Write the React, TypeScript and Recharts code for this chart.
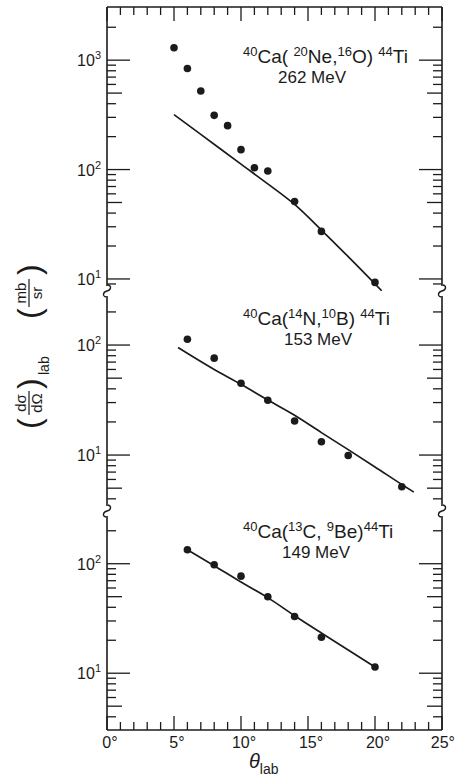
import React from 'react';
import { ComposedChart, Line, Scatter, XAxis, YAxis } from 'recharts';

// angles in degrees, cross sections in mb/sr
const thetaTicks = [0, 1, 2, 3, 4, 5, 6, 7, 8, 9, 10, 11, 12, 13, 14, 15, 16, 17, 18, 19, 20, 21, 22, 23, 24, 25];

// 40Ca(20Ne,16O)44Ti 262 MeV
const neTheta = [5, 6, 7, 8, 9, 10, 11, 12, 14, 16, 20];
const neSigma = [1300, 840, 522, 313, 252, 152, 104, 97, 51, 27.2, 9.3];
const neCurveTheta = [5, 7, 10, 12, 14, 16, 18, 20.5];
const neCurveSigma = [318, 210, 112, 74, 48, 28, 16, 7.8];

// 40Ca(14N,10B)44Ti 153 MeV
const nTheta = [6, 8, 10, 12, 14, 16, 18, 22];
const nSigma = [113, 76, 45, 31.5, 20.4, 13.2, 9.9, 5.15];
const nCurveTheta = [5.3, 8, 10, 12, 14, 16, 18, 20, 22, 22.9];
const nCurveSigma = [95, 60, 44, 31.6, 23, 16, 11.2, 7.8, 5.4, 4.6];

// 40Ca(13C,9Be)44Ti 149 MeV
const cTheta = [6, 8, 10, 12, 14, 16, 20];
const cSigma = [134, 98, 77, 50, 33, 21.3, 11.4];
const cCurveTheta = [6, 8, 10, 12, 14, 16, 18, 20];
const cCurveSigma = [134, 96, 68, 49, 33.5, 23.3, 16.3, 11.4];

const ticksTop = [9, 10, 20, 30, 40, 50, 60, 70, 80, 90, 100, 200, 300, 400, 500, 600, 700, 800, 900, 1000, 2000];
const ticksLower = [4, 5, 6, 7, 8, 9, 10, 20, 30, 40, 50, 60, 70, 80, 90, 100, 200];

const INK = '#1b1b1b';
const FONT = '"Liberation Sans", Arial, sans-serif';
const W = 456;
const H = 778;
const LEFT = 107;
const RIGHT = 442;
const TOP = 7;
const BOTTOM = 730;
const BREAK1 = 291;
const BREAK2 = 511;

const zip = (xs: number[], ys: number[]) => xs.map((x, i) => ({ x, y: ys[i] }));

const Dot = (props: any) => <circle cx={props.cx} cy={props.cy} r={3.8} fill={INK} />;

const makeYTick = (side: 'l' | 'r') => (props: any) => {
  const { x, y, payload } = props;
  const v = payload.value;
  const e = Math.floor(Math.log10(v) + 1e-9);
  const mant = Math.round(v / Math.pow(10, e));
  const len = mant === 1 ? 23 : mant === 5 ? 15 : 9;
  const dir = side === 'l' ? 1 : -1;
  return (
    <g>
      <line x1={x} x2={x + dir * len} y1={y} y2={y} stroke={INK} strokeWidth={1.3} />
      {side === 'l' && mant === 1 && (
        <text x={x - 6} y={y + 6} textAnchor="end" fontSize={16} fill={INK} fontFamily={FONT}>
          10<tspan dy={-7} fontSize={11}>{e}</tspan>
        </text>
      )}
    </g>
  );
};

const makeXTick = (side: 't' | 'b') => (props: any) => {
  const { x, y, payload } = props;
  const v = payload.value;
  const major = v % 5 === 0;
  const len = major ? 14 : 8;
  const dir = side === 'b' ? -1 : 1;
  const last = v === 25;
  return (
    <g>
      <line x1={x} x2={x} y1={y} y2={y + dir * len} stroke={INK} strokeWidth={1.3} />
      {side === 'b' && major && (
        <text
          x={last ? W - 1 : x + 3}
          y={y + 18}
          textAnchor={last ? 'end' : 'middle'}
          fontSize={16}
          fill={INK}
          fontFamily={FONT}
        >
          {v}°
        </text>
      )}
    </g>
  );
};

interface PanelProps {
  top: number;
  bottom: number;
  domain: [number, number];
  ticks: number[];
  pts: { x: number; y: number }[];
  curve: { x: number; y: number }[];
  xSide: 't' | 'b' | 'none';
}

// axes need a non-zero size to be drawn, so each takes 1px of margin
const Panel: React.FC<PanelProps> = ({ top, bottom, domain, ticks, pts, curve, xSide }) => (
  <div style={{ position: 'absolute', left: 0, top: 0 }}>
    <ComposedChart
      width={W}
      height={H}
      margin={{
        top: xSide === 't' ? top - 1 : top,
        bottom: xSide === 'b' ? H - bottom - 1 : H - bottom,
        left: LEFT - 1,
        right: W - RIGHT - 1,
      }}
    >
      <XAxis
        dataKey="x"
        type="number"
        domain={[0, 25]}
        ticks={thetaTicks}
        interval={0}
        orientation={xSide === 't' ? 'top' : 'bottom'}
        hide={xSide === 'none'}
        height={1}
        tickSize={0}
        tickMargin={0}
        tick={makeXTick(xSide === 't' ? 't' : 'b')}
        axisLine={{ stroke: INK, strokeWidth: 1.6 }}
        allowDataOverflow
      />
      <YAxis
        yAxisId="l"
        dataKey="y"
        scale="log"
        type="number"
        domain={domain}
        ticks={ticks}
        interval={0}
        width={1}
        tickSize={0}
        tickMargin={0}
        tick={makeYTick('l')}
        axisLine={{ stroke: INK, strokeWidth: 1.6 }}
        allowDataOverflow
      />
      <YAxis
        yAxisId="r"
        orientation="right"
        scale="log"
        type="number"
        domain={domain}
        ticks={ticks}
        interval={0}
        width={1}
        tickSize={0}
        tickMargin={0}
        tick={makeYTick('r')}
        axisLine={{ stroke: INK, strokeWidth: 1.6 }}
        allowDataOverflow
      />
      <Line
        yAxisId="l"
        data={curve}
        dataKey="y"
        type="monotone"
        stroke={INK}
        strokeWidth={1.7}
        dot={false}
        isAnimationActive={false}
      />
      <Scatter yAxisId="l" data={pts} dataKey="y" shape={Dot} isAnimationActive={false} />
    </ComposedChart>
  </div>
);

const BreakMark: React.FC<{ x: number; y: number }> = ({ x, y }) => (
  <g>
    <rect x={x - 2} y={y - 5} width={4} height={10} fill="#fff" />
    <path
      d={`M ${x + 1} ${y - 6} C ${x + 5} ${y - 5} ${x + 4} ${y - 1} ${x} ${y} C ${x - 4} ${y + 1} ${x - 5} ${y + 5} ${x - 1} ${y + 6}`}
      fill="none"
      stroke={INK}
      strokeWidth={1.3}
    />
  </g>
);

const Reaction: React.FC<{ x: number; y: number; parts: [string, string][]; energy: string; ex: number }> = ({
  x,
  y,
  parts,
  energy,
  ex,
}) => (
  <g fontFamily={FONT} fill={INK}>
    <text x={x} y={y} fontSize={19}>
      {parts.map(([sup, body], i) => (
        <React.Fragment key={i}>
          <tspan dy={-7} fontSize={13}>{sup}</tspan>
          <tspan dy={7}>{body}</tspan>
        </React.Fragment>
      ))}
    </text>
    <text x={ex} y={y + 20} fontSize={17} textAnchor="middle">
      {energy}
    </text>
  </g>
);

export default function App() {
  return (
    <div style={{ position: 'absolute', left: 0, top: 0, width: W, height: H, background: '#fff' }}>
      <Panel top={TOP} bottom={BREAK1} domain={[7.76, 3062]} ticks={ticksTop} pts={zip(neTheta, neSigma)} curve={zip(neCurveTheta, neCurveSigma)} xSide="t" />
      <Panel top={BREAK1} bottom={BREAK2} domain={[3.1, 310]} ticks={ticksLower} pts={zip(nTheta, nSigma)} curve={zip(nCurveTheta, nCurveSigma)} xSide="none" />
      <Panel top={BREAK2} bottom={BOTTOM} domain={[3.03, 303]} ticks={ticksLower} pts={zip(cTheta, cSigma)} curve={zip(cCurveTheta, cCurveSigma)} xSide="b" />
      <svg width={W} height={H} style={{ position: 'absolute', left: 0, top: 0, pointerEvents: 'none' }}>
        <BreakMark x={LEFT} y={BREAK1} />
        <BreakMark x={RIGHT} y={BREAK1} />
        <BreakMark x={LEFT} y={BREAK2} />
        <BreakMark x={RIGHT} y={BREAK2} />
        <Reaction x={243} y={63} parts={[['40', 'Ca( '], ['20', 'Ne,'], ['16', 'O) '], ['44', 'Ti']]} energy="262 MeV" ex={312} />
        <Reaction x={243} y={325} parts={[['40', 'Ca('], ['14', 'N,'], ['10', 'B) '], ['44', 'Ti']]} energy="153 MeV" ex={318} />
        <Reaction x={243} y={538} parts={[['40', 'Ca('], ['13', 'C, '], ['9', 'Be)'], ['44', 'Ti']]} energy="149 MeV" ex={316} />
        <g fontFamily={FONT} fill={INK}>
          <text x={249} y={768} fontSize={20} fontStyle="italic">
            θ<tspan fontSize={14} fontStyle="normal" dy={6}>lab</tspan>
          </text>
          <g transform="translate(30,345) rotate(-90)">
            <text x={-84} y={10} fontSize={32}>(</text>
            <text x={-58} y={-4} fontSize={15} textAnchor="middle">dσ</text>
            <line x1={-70} x2={-46} y1={-1} y2={-1} stroke={INK} strokeWidth={1.2} />
            <text x={-58} y={12} fontSize={15} textAnchor="middle">dΩ</text>
            <text x={-44} y={10} fontSize={32}>)</text>
            <text x={-30} y={19} fontSize={14}>lab</text>
            <text x={26} y={10} fontSize={32}>(</text>
            <text x={52} y={-4} fontSize={15} textAnchor="middle">mb</text>
            <line x1={38} x2={66} y1={-1} y2={-1} stroke={INK} strokeWidth={1.2} />
            <text x={52} y={12} fontSize={15} textAnchor="middle">sr</text>
            <text x={70} y={10} fontSize={32}>)</text>
          </g>
        </g>
      </svg>
    </div>
  );
}
